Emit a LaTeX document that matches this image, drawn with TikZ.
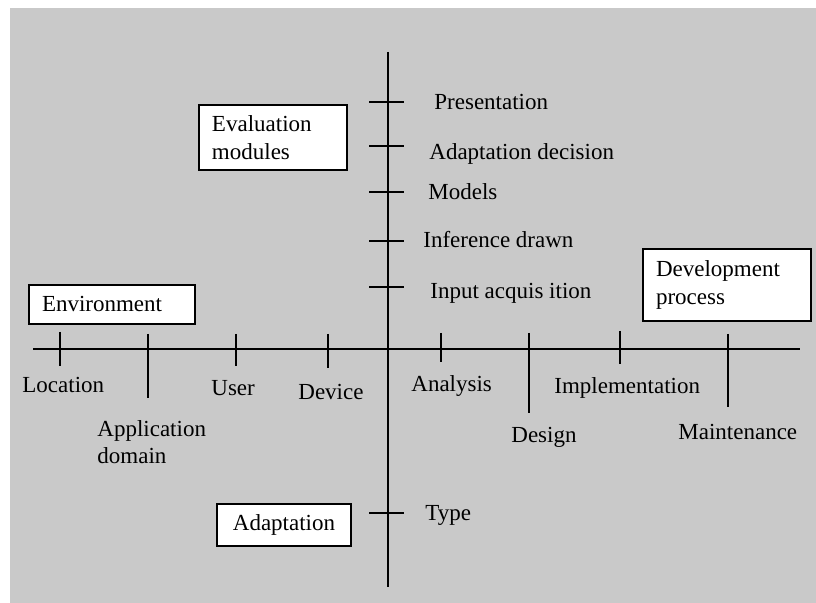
\documentclass[tikz,border=0pt]{standalone}
\usepackage{fontspec}
\setmainfont{Liberation Serif}
\usetikzlibrary{positioning}
\definecolor{bggray}{RGB}{201,201,201}
\tikzset{
  axisline/.style={line width=1pt, draw=black},
  modbox/.style={
    draw=black,
    fill=white,
    line width=1pt,
    align=left,
    inner xsep=6.5pt,
    inner ysep=0pt,
    font=\fontsize{11.5}{13.75}\selectfont
  },
  lbl/.style={inner sep=0pt, anchor=base west, align=left,
    font=\fontsize{11.5}{13.5}\selectfont}
}

\begin{document}
\begin{tikzpicture}[x=0.5pt, y=-0.5pt]
    \useasboundingbox (0,0) rectangle (816,603);
    \fill[white] (0,0) rectangle (816,603);
    \fill[bggray] (10,8) rectangle (816,603);
    % axes
    \coordinate (vtop) at (388,52);
    \coordinate (vbot) at (388,587);
    \coordinate (hleft) at (33,349);
    \coordinate (hright) at (800,349);
    \draw[axisline] (vtop) -- (vbot);
    \draw[axisline] (hleft) -- (hright);
    % ticks
    \foreach \y in {102,146,192,241,287,513}
      \draw[axisline] (369,\y) -- (404,\y);
    \foreach \x/\a/\b in {60/332/366, 148/334/398, 236/334/366, 328/334/368,
                          441/333/362, 529/333/413, 620/331/364, 728/334/407}
      \draw[axisline] (\x,\a) -- (\x,\b);
    % vertical axis labels
    \node[lbl] (present) at (434,110) {Presentation};
    \node[lbl] (decision) at (429,160) {Adaptation decision};
    \node[lbl] (models) at (428,200) {Models};
    \node[lbl] (infer) at (423,248) {Inference drawn};
    \node[lbl] (input) at (430,299) {Input acquis ition};
    \node[lbl] (type) at (425,521) {Type};
    % horizontal axis labels
    \node[lbl] (location) at (22,393) {Location};
    \node[lbl] (appdom) at (97,464) {Application\\domain};
    \node[lbl] (user) at (211,396) {User};
    \node[lbl] (device) at (298,400) {Device};
    \node[lbl] (analysis) at (411,392) {Analysis};
    \node[lbl] (design) at (511,443) {Design};
    \node[lbl] (implement) at (554,394) {Implementation};
    \node[lbl] (maint) at (678,440) {Maintenance};
    % boxes
    \node[modbox, text width=61pt, minimum height=32.5pt] (evalbox) at (273,137.5) {Evaluation\\modules};
    \node[modbox, text width=70pt, minimum height=19.5pt] (envbox) at (112,304.5) {Environment};
    \node[modbox, text width=71pt, minimum height=36pt] (devbox) at (727,285) {Development\\process};
    \node[modbox, align=center, text width=54pt, minimum height=21pt] (adaptbox) at (284,525) {Adaptation};
\end{tikzpicture}
\end{document}
